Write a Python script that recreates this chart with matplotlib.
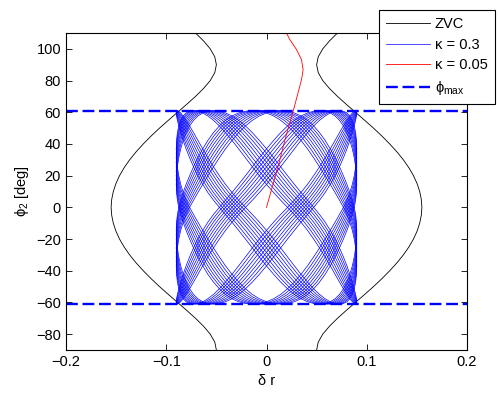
import matplotlib.pyplot as plt

plt.rcParams['font.family'] = ['Liberation Sans', 'DejaVu Sans']
plt.rcParams['mathtext.fontset'] = 'custom'
plt.rcParams['mathtext.rm'] = 'Liberation Sans'
plt.rcParams['mathtext.it'] = 'Liberation Sans:italic'

# zero velocity curve: half width in delta r (mirror image on the other side)
zvc_phi = [-90, -85, -80, -75, -70, -65, -60, -55, -50, -45, -40, -35, -30, -25, -20, -15, -10, -5, 0,
           5, 10, 15, 20, 25, 30, 35, 40, 45, 50, 55, 60, 65, 70, 75, 80, 85, 90, 95, 100, 105, 110]
zvc_r = [0.0500, 0.0516, 0.0561, 0.0628, 0.0708, 0.0796, 0.0887, 0.0978, 0.1067, 0.1151,
         0.1229, 0.1301, 0.1365, 0.1420, 0.1466, 0.1502, 0.1528, 0.1544, 0.1550,
         0.1544, 0.1528, 0.1502, 0.1466, 0.1420, 0.1365, 0.1301, 0.1229, 0.1151, 0.1067,
         0.0978, 0.0887, 0.0796, 0.0708, 0.0628, 0.0561, 0.0516, 0.0500, 0.0516, 0.0561, 0.0628, 0.0708]

# kappa = 0.05 run
red_r = [0.0, 0.006, 0.0125, 0.019, 0.0266, 0.0332, 0.0352, 0.0365, 0.0349, 0.0299, 0.0232, 0.0183]
red_phi = [0.0, 13.5, 28.0, 44.0, 60.7, 76.4, 81.5, 86.9, 93.2, 99.6, 105.9, 112.0]

phi_max = 61

# kappa = 0.3 run: where the strands sit across the box, read in steps of a tenth of a lattice cell
r_half = [-0.0900, -0.0899, -0.0897, -0.0894, -0.0889, -0.0883, -0.0875, -0.0866, -0.0856, -0.0844,
          -0.0831, -0.0817, -0.0802, -0.0785, -0.0767, -0.0748, -0.0728, -0.0707, -0.0684, -0.0661,
          -0.0636, -0.0611, -0.0585, -0.0557, -0.0529, -0.0500, -0.0470, -0.0440, -0.0409, -0.0377,
          -0.0344, -0.0312, -0.0278, -0.0244, -0.0210, -0.0176, -0.0141, -0.0106, -0.0071, -0.0035, 0.0]
phi_half = [-61.0, -60.9, -60.65, -60.2, -59.56, -58.71, -57.66, -56.4, -54.93, -53.26,
            -51.39, -49.34, -47.12, -44.74, -42.23, -39.62, -36.91, -34.12, -31.29, -28.44,
            -25.59, -22.76, -19.96, -17.2, -14.52, -11.9, -9.36, -6.91, -4.52, -2.22, 0.0]
r_grid = r_half + [-v for v in r_half[-2::-1]]
phi_grid = phi_half + [-v for v in phi_half[-2::-1]]

# bundles: rising ones along n - m = const, falling ones along n + m = const (in lattice cells)
rising = [-6, -4, -2, 0, 2, 4, 6, 8]
falling = [0, 2, 4, 6, 8, 10, 12, 14]
strand_shift = [-4, -3, -2, -1, 0, 1, 2, 3, 4]

cell = 10
n_top = len(r_grid) - 1
m_top = len(phi_grid) - 1

fig, ax = plt.subplots(figsize=(4.98, 3.93), dpi=100)
fig.subplots_adjust(left=0.1325, right=0.9378, bottom=0.1094, top=0.916)

ax.plot(zvc_r, zvc_phi, color='k', lw=0.6, label='ZVC')
ax.plot([-v for v in zvc_r], zvc_phi, color='k', lw=0.6)

first = True
for c in rising:
    for s in strand_shift:
        k = c * cell + s
        lo, hi = max(0, k), min(n_top, m_top + k)
        if hi <= lo:
            continue
        ns = list(range(lo, hi, 2)) + [hi]
        ax.plot([r_grid[n] for n in ns], [phi_grid[n - k] for n in ns], color='b', lw=0.5,
                label='κ = 0.3' if first else None)
        first = False
for d in falling:
    for s in strand_shift:
        k = d * cell + s
        lo, hi = max(0, k - m_top), min(n_top, k)
        if hi <= lo:
            continue
        ns = list(range(lo, hi, 2)) + [hi]
        ax.plot([r_grid[n] for n in ns], [phi_grid[k - n] for n in ns], color='b', lw=0.5)

ax.plot(red_r, red_phi, color='r', lw=0.6, label='κ = 0.05')

ax.axhline(phi_max, color='b', lw=1.7, dashes=(5, 2), label='ϕ$_{\\mathrm{max}}$')
ax.axhline(-phi_max, color='b', lw=1.7, dashes=(5, 2))

ax.set_xlim(-0.2, 0.2)
ax.set_ylim(-90, 110)
ax.set_xticks([-0.2, -0.1, 0, 0.1, 0.2])
ax.set_xticklabels(['−0.2', '−0.1', '0', '0.1', '0.2'])
ax.set_yticks(range(-80, 101, 20))
ax.tick_params(direction='in', top=True, right=True, length=4, width=0.6, labelsize=10.5)
for sp in ax.spines.values():
    sp.set_linewidth(0.8)
ax.set_xlabel('δ r', fontsize=10.5)
ax.set_ylabel('ϕ$_2$ [deg]', fontsize=10.5)

leg = ax.legend(loc='upper right', bbox_to_anchor=(495 / 498, 1 - 10 / 393),
                bbox_transform=fig.transFigure, borderaxespad=0, fontsize=10.5, fancybox=False,
                edgecolor='k', framealpha=1, handlelength=3.0, labelspacing=0.45,
                borderpad=0.5, handletextpad=0.35)
leg.get_frame().set_linewidth(0.8)

plt.savefig('out.png')
